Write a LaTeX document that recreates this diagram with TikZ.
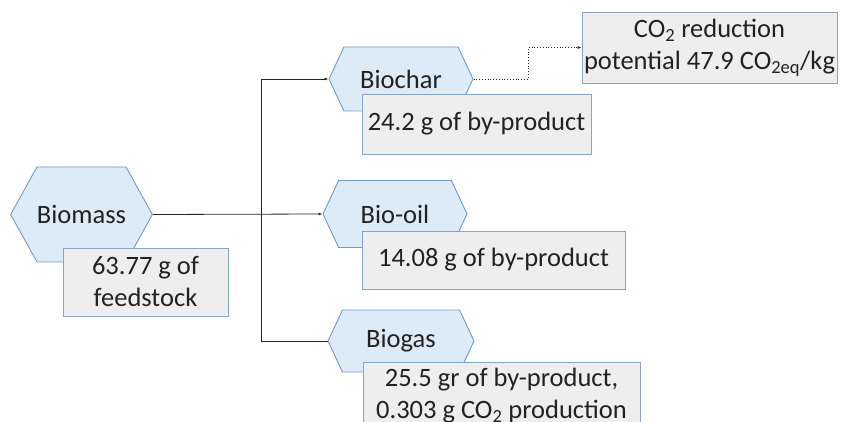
\documentclass[tikz,border=0pt]{standalone}
\usepackage{fontspec}
\setmainfont{Carlito}
\usepackage{xcolor}
\usepackage{tikz}
\usetikzlibrary{shapes.symbols,arrows.meta}
\definecolor{hexblue}{HTML}{DDEBF7}
\definecolor{hexedge}{HTML}{6F9BCB}
\definecolor{boxgray}{HTML}{EEEEEE}
\definecolor{boxedge}{HTML}{8AA4C4}
\definecolor{inkgray}{HTML}{222222}

\tikzset{
  product/.style={shape=signal,signal to=west and east,signal pointer angle=130,
    draw=hexedge,fill=hexblue,line width=0.9pt,inner sep=0pt,text=inkgray},
  yield/.style={draw=boxedge,fill=boxgray,line width=0.9pt,inner sep=0pt,
    align=center,text=inkgray},
  flow/.style={line width=0.8pt,draw=black!85},
  tip/.style={-{Latex[length=4pt,width=3pt]}}
}

\begin{document}
\begin{tikzpicture}[x=1pt,y=-1pt,font=\fontsize{26.5}{32}\selectfont]
\useasboundingbox (0,0) rectangle (841,422);

% raw material
\node[product,signal pointer angle=122,minimum width=139pt,minimum height=95pt] (biomass) at (81.5,214.5) {Biomass};
\node[yield,minimum width=165pt,minimum height=68pt] (feed) at (145.5,282) {63.77 g of\\feedstock};

% outputs
\node[product,minimum width=144pt,minimum height=64pt] (char) at (401,79) {Biochar};
\node[yield,minimum width=229pt,minimum height=60pt] (charyield) at (476.5,124) {24.2 g of by-product};

\node[product,minimum width=144pt,minimum height=67pt] (oil) at (395,214) {Bio-oil};
\node[yield,minimum width=263pt,minimum height=58pt] (oilyield) at (493.5,260) {14.08 g of by-product};

\node[product,minimum width=146pt,minimum height=62pt] (gas) at (401,341) {Biogas};
\node[yield,minimum width=277pt,minimum height=68pt] (gasyield) at (501.5,396) {25.5 gr of by-product,\\0.303 g CO\textsubscript{2} production};

\node[yield,minimum width=255pt,minimum height=71pt] (co2) at (709.5,47.5) {CO\textsubscript{2} reduction\\potential 47.9 CO\textsubscript{2eq}/kg};

% connectors
\coordinate (fork) at (261,214);
\coordinate (kink) at (528,0);
\draw[flow,tip] (biomass.east) -- (oil.west);
\draw[flow,tip] (fork) |- (char.west);
\draw[flow] (fork) |- (gas.west);
\draw[flow,dotted,tip] (char.east) -- (char.east -| kink) |- (co2.west);
\end{tikzpicture}
\end{document}
